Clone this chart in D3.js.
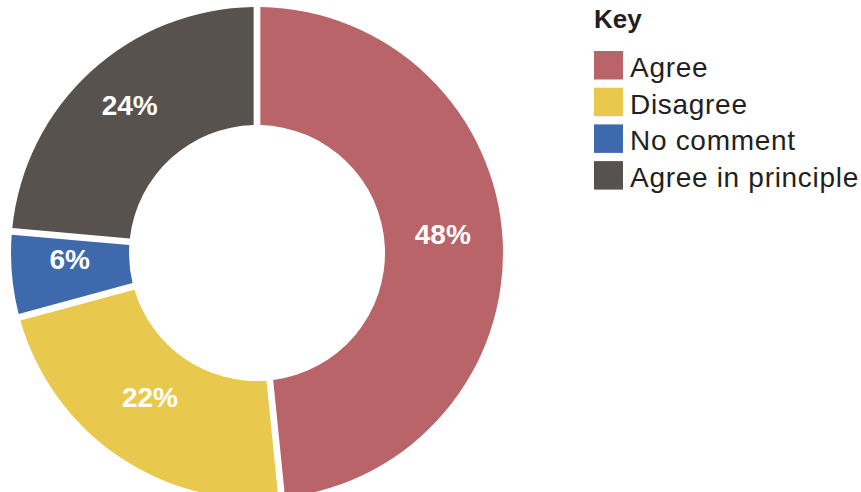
<!DOCTYPE html>
<html>
<head>
<meta charset="utf-8">
<script src="https://cdn.jsdelivr.net/npm/d3@7"></script>
<style>
  html, body { margin: 0; padding: 0; background: #fff; }
  svg { display: block; font-family: "Liberation Sans", Arial, sans-serif; }
</style>
</head>
<body>
<svg width="861" height="492"></svg>
<script>
// Categories, in drawing order (clockwise from 12 o'clock).
var categories = ["Agree", "Disagree", "No comment", "Agree in principle"];
// Shares in percent.
var values = [48.4, 22.4, 5.6, 23.6];
// Slice colours.
var colours = ["#b96468", "#e9c84e", "#3f69ad", "#58524f"];

var svg = d3.select("svg");
var width = +svg.attr("width");
var height = +svg.attr("height");

var cx = 257, cy = 253;
var outerR = 246, innerR = 128;

var slices = categories.map(function(c, i) {
	return { name: c, value: values[i], colour: colours[i] };
});

// Pie keeps the given order.
var pie = d3.pie().sort(null).value(function(d) { return d.value; });

var arc = d3.arc()
	.innerRadius(innerR)
	.outerRadius(outerR)
	.padRadius(250)
	.padAngle(0.027);

var labelArc = d3.arc()
	.innerRadius((innerR + outerR) / 2)
	.outerRadius((innerR + outerR) / 2);

var g = svg.append("g").attr("transform", "translate(" + cx + "," + cy + ")");

// Draw the slices.
g.selectAll("path")
	.data(pie(slices))
	.enter()
	.append("path")
	.attr("d", arc)
	.attr("fill", function(d) { return d.data.colour; });

// Percentage labels, baseline on the centroid.
g.selectAll("text")
	.data(pie(slices))
	.enter()
	.append("text")
	.attr("x", function(d) { return labelArc.centroid(d)[0] - 1; })
	.attr("y", function(d) { return labelArc.centroid(d)[1]; })
	.attr("text-anchor", "middle")
	.attr("fill", "#fff")
	.attr("font-weight", "bold")
	.attr("font-size", 28)
	.text(function(d) { return Math.round(d.data.value) + "%"; });

// Legend.
var legend = svg.append("g").attr("transform", "translate(594,0)");

legend.append("text")
	.attr("x", 0)
	.attr("y", 28)
	.attr("font-weight", "bold")
	.attr("font-size", 26)
	.attr("fill", "#231f20")
	.text("Key");

var row = d3.scaleBand().domain(categories).range([51, 51 + 36.7 * 4]);

var item = legend.selectAll("g.item")
	.data(slices)
	.enter()
	.append("g")
	.attr("class", "item")
	.attr("transform", function(d) { return "translate(0," + row(d.name) + ")"; });

item.append("rect")
	.attr("width", 29)
	.attr("height", 28.5)
	.attr("fill", function(d) { return d.colour; });

item.append("text")
	.attr("x", 36)
	.attr("y", 26)
	.attr("font-size", 28)
	.attr("letter-spacing", 0.7)
	.attr("fill", "#231f20")
	.text(function(d) { return d.name; });
</script>
</body>
</html>
